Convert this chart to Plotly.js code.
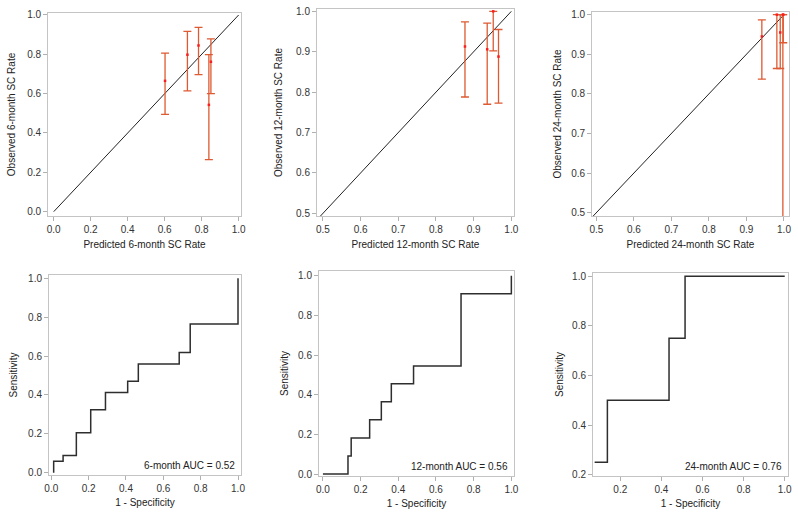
<!DOCTYPE html>
<html>
<head>
<meta charset="utf-8">
<script src="https://cdn.plot.ly/plotly-3.0.1.min.js"></script>
<style>
  html, body { margin: 0; padding: 0; background: #fff; }
  #chart { width: 798px; height: 517px; }
</style>
</head>
<body>
<div id="chart"></div>
<script>
// ---- Calibration data: predicted (x), observed (y), CI upper / lower ----
const cal6Pred  = [0.602, 0.723, 0.783, 0.839, 0.850];
const cal6Obs   = [0.665, 0.798, 0.845, 0.543, 0.762];
const cal6Upper = [0.806, 0.917, 0.937, 0.798, 0.879];
const cal6Lower = [0.495, 0.614, 0.697, 0.265, 0.600];

const cal12Pred  = [0.877, 0.936, 0.952, 0.966];
const cal12Obs   = [0.913, 0.906, 1.000, 0.888];
const cal12Upper = [0.974, 0.971, 1.000, 0.955];
const cal12Lower = [0.788, 0.770, 0.902, 0.773];

const cal24Pred  = [0.941, 0.981, 0.990, 0.998, 0.997];
const cal24Obs   = [0.945, 1.000, 0.955, 1.000, 1.000];
const cal24Upper = [0.987, 1.000, 1.000, 1.000, 1.000];
const cal24Lower = [0.837, 0.864, 0.864, 0.929, 0.000];

const diagX = [0, 1];
const diagY = [0, 1];

// ---- ROC data: 1 - specificity (fpr), sensitivity (tpr) ----
const roc6Fpr = [0.0125, 0.063, 0.134, 0.211, 0.290, 0.409, 0.466, 0.685, 0.744, 1.0, 1.0];
const roc6Tpr = [0.000, 0.059, 0.088, 0.206, 0.324, 0.412, 0.471, 0.559, 0.618, 0.765, 1.0];

const roc12Fpr = [0.0, 0.133, 0.150, 0.248, 0.310, 0.363, 0.481, 0.733, 1.0, 1.0];
const roc12Tpr = [0.0, 0.000, 0.091, 0.182, 0.273, 0.364, 0.455, 0.545, 0.909, 1.0];

const roc24Fpr = [0.075, 0.137, 0.437, 0.515, 1.0];
const roc24Tpr = [0.250, 0.250, 0.500, 0.750, 1.0];

const aucLabels = ["6-month AUC = 0.52", "12-month AUC = 0.56", "24-month AUC = 0.76"];
const xTitles = ["Predicted 6-month SC Rate", "Predicted 12-month SC Rate", "Predicted 24-month SC Rate"];
const yTitles = ["Observed 6-month SC Rate", "Observed 12-month SC Rate", "Observed 24-month SC Rate"];
const rocXTitle = "1 - Specificity";
const rocYTitle = "Sensitivity";

// ---- build ----
const FONT = "Liberation Sans, Arial, sans-serif";
const errColor = "rgb(222,90,50)";
function diff(a, b) { return a.map((v, i) => v - b[i]); }

function calTraces(px, po, up, lo, xa, ya) {
  return [
    {x: diagX, y: diagY, xaxis: xa, yaxis: ya, mode: "lines", type: "scatter",
     line: {color: "#222", width: 1}, hoverinfo: "skip"},
    {x: px, y: po, xaxis: xa, yaxis: ya, mode: "markers", type: "scatter",
     marker: {color: "rgb(250,30,30)", size: 2.5, symbol: "square"},
     error_y: {type: "data", symmetric: false, array: diff(up, po), arrayminus: diff(po, lo),
               color: errColor, thickness: 1.3, width: 4}}
  ];
}
function rocTrace(fx, ty, xa, ya) {
  return {x: fx, y: ty, xaxis: xa, yaxis: ya, mode: "lines", type: "scatter",
          line: {color: "#2e2e2e", width: 1.5, shape: "vh"}};
}

const data = [].concat(
  calTraces(cal6Pred, cal6Obs, cal6Upper, cal6Lower, "x", "y"),
  calTraces(cal12Pred, cal12Obs, cal12Upper, cal12Lower, "x2", "y2"),
  calTraces(cal24Pred, cal24Obs, cal24Upper, cal24Lower, "x3", "y3"),
  [rocTrace(roc6Fpr, roc6Tpr, "x4", "y4"),
   rocTrace(roc12Fpr, roc12Tpr, "x5", "y5"),
   rocTrace(roc24Fpr, roc24Tpr, "x6", "y6")]
);

function ax(domain, range, tickvals, title, anchor, standoff) {
  return {
    domain: domain, range: range, anchor: anchor, tickvals: tickvals, tickformat: ".1f",
    showline: true, mirror: true, linecolor: "#c4c4c4", linewidth: 1,
    ticks: "outside", ticklen: 4, tickcolor: "#b0b0b0", tickwidth: 1,
    showgrid: false, zeroline: false, automargin: false,
    tickfont: {family: FONT, size: 10, color: "#333"},
    title: {text: title, font: {family: FONT, size: 10, color: "#222"}, standoff: standoff}
  };
}
const t01 = [0, 0.2, 0.4, 0.6, 0.8, 1.0];
const t51 = [0.5, 0.6, 0.7, 0.8, 0.9, 1.0];
const t21 = [0.2, 0.4, 0.6, 0.8, 1.0];

const layout = {
  width: 798, height: 517,
  margin: {l: 0, r: 0, t: 0, b: 0},
  paper_bgcolor: "#fff", plot_bgcolor: "#fff",
  showlegend: false,
  font: {family: FONT, size: 10, color: "#333"},
  xaxis:  ax([0.0602, 0.3020], [-0.0307, 1.0127], t01, xTitles[0], "y", 6),
  yaxis:  ax([0.5822, 0.9749], [-0.0221, 1.0102], t01, yTitles[0], "x", 9),
  xaxis2: ax([0.3972, 0.6441], [0.4841, 1.0071], t51, xTitles[1], "y2", 6),
  yaxis2: ax([0.5822, 0.9826], [0.4934, 1.0058], t51, yTitles[1], "x2", 11),
  xaxis3: ax([0.7419, 0.9887], [0.4885, 1.0133], t51, xTitles[2], "y3", 6),
  yaxis3: ax([0.5822, 0.9768], [0.4916, 1.0067], t51, yTitles[2], "x3", 7),
  xaxis4: ax([0.0614, 0.3020], [-0.0125, 1.016], t01, rocXTitle, "y4", 5),
  yaxis4: ax([0.0812, 0.4681], [-0.012, 1.017], t01, rocYTitle, "x4", 8),
  xaxis5: ax([0.3997, 0.6441], [-0.021, 1.014], t01, rocXTitle, "y5", 5),
  yaxis5: ax([0.0793, 0.4758], [-0.010, 1.0236], t01, rocYTitle, "x5", 7),
  xaxis6: ax([0.7431, 0.9875], [0.067, 1.016], t21, rocXTitle, "y6", 5),
  yaxis6: ax([0.0793, 0.4720], [0.1946, 1.0135], t21, rocYTitle, "x6", 6),
  annotations: aucLabels.map((txt, i) => ({
    text: txt, xref: "x" + (i + 4) + " domain", yref: "y" + (i + 4) + " domain",
    x: 1, y: 0, xanchor: "right", yanchor: "bottom", xshift: -4, yshift: 2,
    showarrow: false, font: {family: FONT, size: 10, color: "#222"}
  }))
};

Plotly.newPlot("chart", data, layout, {displayModeBar: false, staticPlot: true});
</script>
</body>
</html>
